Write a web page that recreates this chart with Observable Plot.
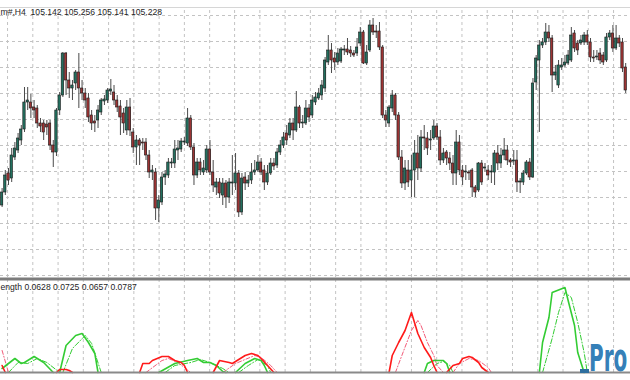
<!DOCTYPE html>
<html>
<head>
<meta charset="utf-8">
<script src="https://cdn.jsdelivr.net/npm/d3@7"></script>
<script src="https://cdn.jsdelivr.net/npm/@observablehq/plot@0.6"></script>
<style>
  html, body { margin: 0; padding: 0; background: #ffffff; }
  #wrap { position: relative; width: 630px; height: 380px; overflow: hidden; background: #fff; }
  #wrap > svg { display: block; }
  #wmsvg { position: absolute; left: 578px; top: 330px; }
</style>
</head>
<body>
<div id="wrap"></div>
<script>
// ---- price data (OHLC, H4 bars) ----
const open = [
104.65,104.78,104.97,104.92,105.13,105.20,105.30,105.41,105.68,105.68,
105.63,105.62,105.47,105.47,105.46,105.47,105.25,105.18,105.60,105.75,
106.17,105.90,105.82,105.87,105.98,105.82,105.77,105.72,105.55,105.49,
105.50,105.58,105.69,105.70,105.79,105.78,105.70,105.64,105.57,105.40,
105.63,105.38,105.23,105.30,105.28,105.28,105.15,104.98,104.98,104.62,
104.68,104.93,104.95,105.07,105.07,105.20,105.21,105.28,105.27,105.52,
105.23,104.95,105.08,104.98,105.00,105.21,104.98,104.83,104.88,104.75,
104.87,104.73,104.87,104.87,104.97,104.58,104.93,104.87,104.90,104.98,
105.00,105.08,105.00,104.88,104.97,105.07,105.05,105.18,105.25,105.37,
105.35,105.47,105.40,105.63,105.47,105.47,105.62,105.55,105.68,105.72,
105.75,105.82,106.08,106.20,106.12,106.08,106.09,106.20,106.21,106.20,
106.17,106.17,106.27,106.38,106.07,106.20,106.45,106.39,106.39,106.23,
105.55,105.47,105.62,105.75,105.55,105.13,104.87,105.00,104.90,105.00,
105.17,105.02,105.33,105.32,105.30,105.32,105.44,105.33,105.10,105.18,
105.12,105.07,104.97,105.28,105.00,104.98,104.98,105.00,104.83,104.80,
105.07,105.02,105.00,104.98,104.98,105.17,105.07,105.15,105.20,105.10,
105.09,105.10,104.88,104.88,104.97,105.08,104.93,105.88,106.10,106.25,
106.28,106.38,106.32,105.95,105.85,106.03,106.05,106.07,106.10,106.37,
106.27,106.27,106.28,106.35,106.28,106.13,106.13,106.17,106.15,106.10,
106.33,106.37,106.22,106.32,106.28,106.03];
const high = [
104.82,105.00,105.02,105.22,105.28,105.37,105.45,105.83,105.83,105.76,
105.70,105.65,105.52,105.50,105.50,105.50,105.30,105.62,105.78,106.18,
106.18,105.98,105.90,106.00,106.17,105.90,105.82,105.77,105.60,105.55,
105.65,105.72,105.75,105.82,105.91,105.85,105.75,105.70,105.62,105.70,
105.72,105.42,105.35,105.32,105.32,105.32,105.20,105.05,105.02,104.75,
104.98,105.00,105.12,105.12,105.30,105.30,105.32,105.33,105.62,105.55,
105.27,105.12,105.12,105.10,105.25,105.30,105.10,104.92,104.92,104.92,
104.90,104.92,105.15,105.17,105.00,104.97,104.98,104.95,105.07,105.10,
105.15,105.12,105.05,105.05,105.12,105.12,105.22,105.30,105.38,105.45,
105.52,105.52,105.79,105.65,105.55,105.70,105.66,105.75,105.78,105.82,
105.90,106.13,106.35,106.27,106.18,106.22,106.23,106.25,106.32,106.24,
106.20,106.32,106.43,106.40,106.25,106.50,106.52,106.45,106.48,106.25,
105.60,105.65,105.80,105.77,105.58,105.20,105.10,105.10,105.15,105.30,
105.35,105.40,105.45,105.38,105.40,105.50,105.47,105.40,105.22,105.20,
105.18,105.15,105.40,105.35,105.05,105.05,105.00,105.02,104.85,105.08,
105.10,105.07,105.05,105.05,105.20,105.25,105.22,105.32,105.25,105.12,
105.20,105.20,104.92,105.00,105.10,105.12,105.92,106.15,106.30,106.32,
106.47,106.45,106.35,106.05,106.10,106.12,106.15,106.20,106.43,106.40,
106.30,106.35,106.38,106.40,106.32,106.20,106.20,106.22,106.18,106.37,
106.40,106.45,106.45,106.35,106.32,106.07];
const low = [
104.63,104.75,104.85,104.88,105.10,105.17,105.25,105.38,105.60,105.52,
105.52,105.42,105.38,105.30,105.35,105.20,105.03,105.14,105.55,105.73,
105.75,105.72,105.70,105.80,105.62,105.70,105.62,105.48,105.40,105.38,
105.42,105.55,105.65,105.67,105.75,105.65,105.58,105.35,105.37,105.35,
105.34,105.17,105.05,105.05,105.20,105.10,104.92,104.90,104.50,104.48,
104.65,104.85,104.92,105.02,105.02,105.10,105.18,105.25,105.24,105.20,
104.85,104.92,104.95,104.95,104.97,104.95,104.78,104.75,104.72,104.65,
104.62,104.67,104.75,104.80,104.53,104.55,104.80,104.83,104.86,104.95,
104.98,104.95,104.80,104.85,104.95,105.00,105.02,105.15,105.22,105.25,
105.32,105.30,105.38,105.42,105.42,105.45,105.48,105.52,105.65,105.70,
105.70,105.78,106.05,105.97,106.00,106.05,106.07,106.15,106.15,106.13,
106.13,106.14,106.24,106.06,106.05,106.18,106.35,106.32,106.20,105.52,
105.43,105.43,105.58,105.50,105.10,104.82,104.80,104.83,104.73,104.73,
104.90,104.98,105.20,105.15,105.20,105.30,105.30,105.05,105.07,105.05,
105.00,104.85,104.85,104.95,104.85,104.90,104.90,104.73,104.73,104.78,
104.85,104.98,104.90,104.87,104.85,105.00,105.02,105.10,105.05,105.03,
105.05,104.78,104.77,104.85,104.95,104.90,104.92,105.80,105.38,106.22,
106.25,106.28,105.78,105.90,105.82,106.00,106.03,106.05,106.08,106.18,
106.15,106.25,106.25,106.25,106.08,106.08,106.10,106.06,106.05,106.08,
106.30,106.18,106.20,106.23,105.98,105.77];
const close = [
104.78,104.95,104.90,105.15,105.22,105.32,105.41,105.68,105.70,105.62,
105.60,105.47,105.44,105.38,105.43,105.25,105.18,105.60,105.75,106.17,
105.90,105.82,105.85,105.98,105.82,105.77,105.70,105.53,105.47,105.47,
105.60,105.70,105.71,105.80,105.81,105.70,105.63,105.53,105.47,105.63,
105.40,105.23,105.30,105.25,105.27,105.15,104.98,105.00,104.62,104.70,
104.93,104.96,105.08,105.08,105.21,105.22,105.29,105.29,105.52,105.23,
104.95,105.08,105.00,105.02,105.21,104.98,104.85,104.88,104.77,104.87,
104.73,104.88,104.88,104.97,104.58,104.92,104.87,104.90,104.98,105.00,
105.08,104.98,104.88,104.97,105.07,105.04,105.18,105.25,105.33,105.30,
105.47,105.40,105.63,105.47,105.48,105.62,105.53,105.70,105.73,105.77,
105.85,106.10,106.20,106.10,106.08,106.17,106.21,106.21,106.18,106.17,
106.15,106.23,106.38,106.07,106.18,106.45,106.38,106.38,106.23,105.55,
105.50,105.63,105.75,105.55,105.13,104.87,105.02,104.88,105.00,105.17,
105.02,105.33,105.32,105.22,105.31,105.44,105.33,105.10,105.17,105.12,
105.07,104.97,105.28,105.00,104.93,104.99,104.97,104.83,104.78,105.07,
104.88,105.03,104.95,104.99,105.17,105.07,105.15,105.20,105.10,105.08,
105.10,104.88,104.89,104.97,105.08,104.93,105.87,106.12,106.25,106.28,
106.38,106.32,105.95,105.98,106.05,106.05,106.08,106.15,106.35,106.22,
106.20,106.30,106.35,106.28,106.13,106.12,106.14,106.10,106.08,106.33,
106.37,106.22,106.32,106.27,106.02,105.80];

// ---- indicator lines: [bar, value], null = gap ----
const greenMain = [
[0,0.012],[4,0.042],[6,0.027],[7,0.030],[10,0.048],[13,0.030],[16,0],null,
[18,0],[20,0.081],[23,0.111],[25,0.117],[27,0.090],[29,0.057],[30,0],null,
[49,0],[54,0.027],[58,0.036],[61,0.042],[63,0.030],[65,0.030],[67,0.021],[69,0.003],[70,0],null,
[73,0],[76,0.027],[79,0.042],[81,0.036],[82,0.021],[83,0],null,
[132,0],[133,0.027],[135,0.036],[138,0.036],[139,0.027],[140,0],null,
[168,0],[169,0.090],[171,0.165],[172,0.240],[176,0.255],[177,0.216],[179,0.141],[180,0.060],[182,0]];
const greenSignal = [
[2,0],[5,0.030],[8,0.027],[11,0.042],[14,0.030],[18,0],null,
[19,0],[22,0.072],[26,0.111],[28,0.087],[31,0],null,
[51,0],[54,0.021],[59,0.030],[62,0.039],[65,0.030],[69,0.012],[71,0],null,
[74,0],[77,0.021],[80,0.039],[83,0.021],[84,0],null,
[133,0],[136,0.027],[138,0.033],[140,0.021],[141,0],null,
[169,0],[172,0.102],[174,0.180],[176,0.240],[178,0.225],[180,0.150],[182,0.060],[183,0]];
const redMain = [
[0,0.021],[1,0],null,
[17,0],[18,0.009],[20,0.009],[21,0.006],[22,0],null,
[43,0],[44,0.027],[46,0.027],[47,0.036],[50,0.048],[52,0.048],[54,0.036],[56,0.030],[57,0.021],[58,0],null,
[66,0],[68,0.036],[71,0.030],[72,0.027],[74,0.039],[76,0.051],[78,0.057],[80,0.051],[81,0.042],[83,0.021],[85,0],null,
[121,0],[122,0.051],[124,0.090],[126,0.126],[128,0.180],[130,0.117],[132,0.075],[134,0.045],[135,0.021],[136,0],null,
[139,0],[141,0.021],[143,0.027],[144,0.042],[146,0.048],[147,0.045],[149,0.030],[150,0.015],[152,0]];
const redSignal = [
[0,0.066],[2,0],null,
[45,0],[50,0.036],[52,0.042],[55,0.030],[59,0],null,
[69,0],[73,0.027],[79,0.051],[81,0.045],[84,0.021],[86,0],null,
[123,0],[125,0.051],[128,0.126],[130,0.156],[131,0.141],[133,0.090],[135,0.051],[136,0.021],[138,0],null,
[141,0],[143,0.027],[146,0.042],[149,0.036],[152,0.015],[153,0]];

// ---- grid and labels ----
const priceGrid = [106.55,106.29,106.03,105.77,105.51,105.25,104.99,104.73,104.47,104.21,103.95];
const timeGrid = [1.7,9.6,17.5,25.4,33.3,41.2,49.1,57.0,64.9,72.7,80.6,88.5,96.4,104.3,112.2,120.1,128.0,135.9,143.8,151.7,159.6,167.5,175.4,183.3,191.2];
const headerLabel = "m#,H4  105.142 105.256 105.141 105.228";
const indicatorLabel = "ength 0.0628 0.0725 0.0657 0.0787";
const watermark = "Pro";

const priceDomain = [103.93, 106.70];
const chartTop = 106.63;
const indDomain = [-0.024, 0.285];
const separatorLevel = 0.2805;
const xDomain = [-0.5, 196.5];

const bull = "#23705f", bear = "#9c3434";
const grid = {stroke: "#c3c3c3", strokeDasharray: "3,3", strokeWidth: 1};
const font = "'Liberation Sans', Arial, sans-serif";

const candles = open.map((o, i) => ({i, o, h: high[i], l: low[i], c: close[i]}));
const pts = arr => arr.map(p => p ? {bar: p[0], v: p[1]} : {bar: NaN, v: NaN});

const main = Plot.plot({
  width: 630, height: 277, margin: 0,
  style: {background: "transparent", overflow: "visible"},
  x: {domain: xDomain, axis: null},
  y: {domain: priceDomain, axis: null},
  marks: [
    Plot.ruleY(priceGrid, grid),
    Plot.ruleX(timeGrid, {...grid, y1: priceDomain[0], y2: chartTop - 0.01}),
    Plot.ruleY([chartTop], {stroke: "#d6d6d6", strokeWidth: 1}),
    Plot.ruleX(candles, {x: "i", y1: "l", y2: "h", stroke: "#4a4a4a", strokeWidth: 1}),
    Plot.rect(candles, {
      x1: d => d.i - 0.37, x2: d => d.i + 0.37, y1: "o", y2: "c",
      fill: d => d.c > d.o ? bull : bear, stroke: "#1a1a1a", strokeWidth: 0.6
    }),
    Plot.text([headerLabel], {frameAnchor: "top-left", textAnchor: "start", lineAnchor: "bottom",
      dx: 0, dy: 14.5, fontSize: 8.6, fill: "#1e1e1e", fontFamily: font})
  ]
});

const ind = Plot.plot({
  width: 630, height: 103, margin: 0,
  style: {background: "transparent", overflow: "visible"},
  x: {domain: xDomain, axis: null},
  y: {domain: indDomain, axis: null},
  marks: [
    Plot.ruleX(timeGrid, {...grid, y1: 0, y2: indDomain[1]}),
    Plot.ruleY([separatorLevel], {stroke: "#7c7c7c", strokeWidth: 3}),
    Plot.line(pts(greenSignal), {x: "bar", y: "v", stroke: "#33cc33", strokeWidth: 1, strokeDasharray: "5,2,1,2"}),
    Plot.line(pts(redSignal), {x: "bar", y: "v", stroke: "#f25a78", strokeWidth: 1, strokeDasharray: "4,2,1,2"}),
    Plot.line(pts(greenMain), {x: "bar", y: "v", stroke: "#33cc33", strokeWidth: 1.6}),
    Plot.line(pts(redMain), {x: "bar", y: "v", stroke: "#ff1a1a", strokeWidth: 1.6}),
    Plot.ruleY([0], {stroke: "#8a8a8a", strokeWidth: 2.2}),
    Plot.text([indicatorLabel], {frameAnchor: "top-left", textAnchor: "start", lineAnchor: "bottom",
      dx: 0, dy: 12, fontSize: 8.6, fill: "#1e1e1e", fontFamily: font})
  ]
});

const wrap = document.getElementById("wrap");
wrap.appendChild(main);
wrap.appendChild(ind);

// watermark logo: small overlay svg, natural-width text stretched vertically
const wmSvg = d3.create("svg").attr("id", "wmsvg").attr("width", 52).attr("height", 50);
wmSvg.append("rect").attr("x", 2).attr("y", 39).attr("width", 9).attr("height", 4).attr("fill", "#2f6f9f");
wmSvg.append("text").attr("x", 0).attr("y", 0)
  .attr("transform", "translate(11,41) scale(1,1.9)")
  .attr("font-family", "'DejaVu Sans', sans-serif").attr("font-weight", "bold").attr("font-size", 20)
  .attr("fill", "#3580b8").text(watermark);
wrap.appendChild(wmSvg.node());
</script>
</body>
</html>
